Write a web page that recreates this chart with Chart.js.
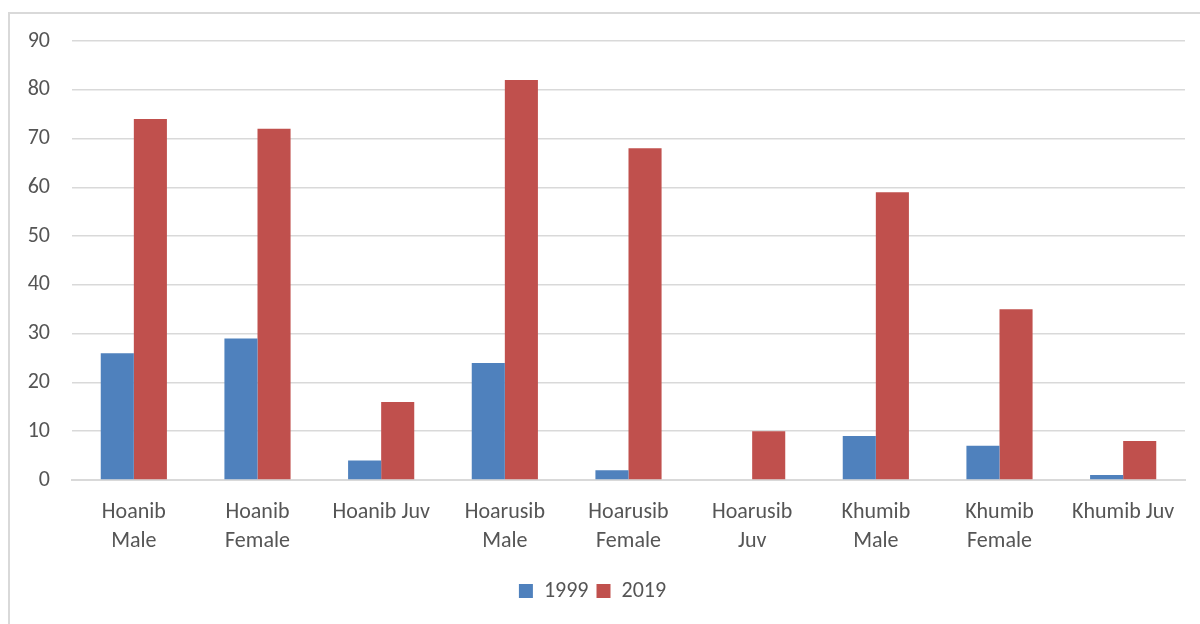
<!DOCTYPE html>
<html lang="en">
<head>
    <meta charset="UTF-8">
    <title>Population by Group</title>
    <script src="https://cdn.jsdelivr.net/npm/chart.js@4.4.0/dist/chart.umd.min.js"></script>
    <style>
        body {
            margin: 0;
            background: #fff;
            overflow: hidden;
        }
        .frame {
            position: absolute;
            left: 8px;
            top: 12px;
            width: 1300px;
            height: 700px;
            border: 2px solid #d9d9d9;
        }
        .chart-box {
            position: absolute;
            left: 0;
            top: 0;
            width: 1200px;
            height: 624px;
        }
    </style>
</head>
<body>
    <div class="frame"></div>
    <div class="chart-box">
        <canvas id="chart"></canvas>
    </div>

    <script>
        // --- Data ---
        const categories = [
            ['Hoanib', 'Male'], ['Hoanib', 'Female'], 'Hoanib Juv',
            ['Hoarusib', 'Male'], ['Hoarusib', 'Female'], ['Hoarusib', 'Juv'],
            ['Khumib', 'Male'], ['Khumib', 'Female'], 'Khumib Juv'
        ];
        const values1999 = [26, 29, 4, 24, 2, 0, 9, 7, 1];
        const values2019 = [74, 72, 16, 82, 68, 10, 59, 35, 8];
        const yTicks = [0, 10, 20, 30, 40, 50, 60, 70, 80, 90];

        const fontFamily = "Carlito, Lato, 'Open Sans', sans-serif";
        const textColor = '#555555';

        const ctx = document.getElementById('chart').getContext('2d');
        new Chart(ctx, {
            type: 'bar',
            data: {
                labels: categories,
                datasets: [
                    {
                        label: '1999',
                        data: values1999,
                        backgroundColor: '#4f81bd',
                        categoryPercentage: 0.535,
                        barPercentage: 1.0
                    },
                    {
                        label: '2019',
                        data: values2019,
                        backgroundColor: '#c0504d',
                        categoryPercentage: 0.535,
                        barPercentage: 1.0
                    }
                ]
            },
            options: {
                responsive: true,
                maintainAspectRatio: false,
                animation: false,
                layout: {
                    padding: { top: 41, right: 15, bottom: 12, left: 0 }
                },
                scales: {
                    x: {
                        grid: { display: false, drawTicks: false },
                        border: { color: '#d9d9d9', width: 2 },
                        ticks: {
                            color: textColor,
                            font: { family: fontFamily, size: 22, lineHeight: 1.32 },
                            padding: 18,
                            maxRotation: 0,
                            autoSkip: false
                        },
                        afterFit: (scale) => { scale.height = 92; }
                    },
                    y: {
                        min: 0,
                        max: 90,
                        afterBuildTicks: (scale) => {
                            scale.ticks = yTicks.map(v => ({ value: v }));
                        },
                        grid: { color: '#d9d9d9', lineWidth: 1.5, drawTicks: false },
                        border: { display: false },
                        ticks: {
                            color: textColor,
                            font: { family: fontFamily, size: 22 },
                            padding: 22
                        },
                        afterFit: (scale) => { scale.width = 72; }
                    }
                },
                plugins: {
                    legend: {
                        position: 'bottom',
                        labels: {
                            color: textColor,
                            font: { family: fontFamily, size: 22 },
                            boxWidth: 14,
                            boxHeight: 14,
                            padding: 8
                        }
                    },
                    tooltip: { enabled: false }
                }
            }
        });
    </script>
</body>
</html>
